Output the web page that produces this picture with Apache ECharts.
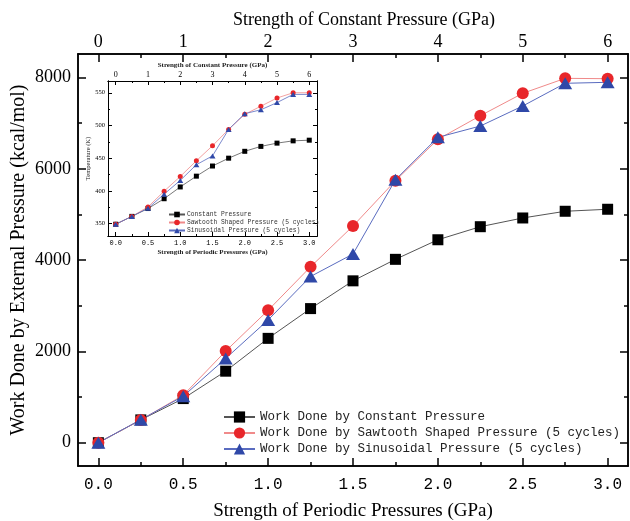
<!DOCTYPE html>
<html>
<head>
<meta charset="utf-8">
<script src="https://cdn.jsdelivr.net/npm/echarts@6/dist/echarts.min.js"></script>
<style>
html,body{margin:0;padding:0;background:#fff;}
#c{width:630px;height:521px;}
</style>
</head>
<body>
<div id="c"></div>
<script>
// ---- data ----
const periodicX = [0, 0.25, 0.5, 0.75, 1.0, 1.25, 1.5, 1.75, 2.0, 2.25, 2.5, 2.75, 3.0];
const workConstant = [0, 500, 967, 1567, 2286, 2938, 3546, 4017, 4446, 4732, 4923, 5070, 5114];
const workSawtooth = [0, 500, 1040, 2007, 2901, 3853, 4747, 5740, 6646, 7163, 7654, 7982, 7974];
const workSinusoidal = [0, 505, 1018, 1846, 2689, 3641, 4134, 5760, 6690, 6937, 7376, 7873, 7895];
const tempConstant = [349, 361, 373, 388, 406, 422.5, 438, 450, 460.5, 468, 473, 476.5, 477.5];
const tempSawtooth = [349, 361, 375.5, 399.5, 422, 446, 469, 494, 517, 529.5, 542, 550, 550];
const tempSinusoidal = [349, 361, 373.5, 395, 416, 440, 453.5, 494, 518, 524, 535, 547.5, 547.5];

const periodicTicks = [0, 0.5, 1.0, 1.5, 2.0, 2.5, 3.0];
const periodicMinor = [0.25, 0.75, 1.25, 1.75, 2.25, 2.75];
const constantTicks = [0, 1, 2, 3, 4, 5, 6];
const constantMinor = [0.5, 1.5, 2.5, 3.5, 4.5, 5.5];
const workTicks = [0, 2000, 4000, 6000, 8000];
const workMinor = [1000, 3000, 5000, 7000];
const tempTicks = [350, 400, 450, 500, 550];
const tempMinor = [375, 425, 475, 525];

const mainNames = ['Work Done by Constant Pressure', 'Work Done by Sawtooth Shaped Pressure (5 cycles)', 'Work Done by Sinusoidal Pressure (5 cycles)'];
const insetNames = ['Constant Pressure', 'Sawtooth Shaped Pressure (5 cycles)', 'Sinusoidal Pressure (5 cycles)'];

// ---- styling helpers ----
const SERIF = "'Liberation Serif', 'DejaVu Serif', serif";
const MONO = "'Liberation Mono', 'DejaVu Sans Mono', monospace";
const AX = '#000';

function pair(ys) { return periodicX.map((x, i) => [x, ys[i]]); }

function xAx(o) {
  return Object.assign({
    type: 'value', splitLine: {show: false}, nameMoveOverlap: false,
    axisLine: {show: true, onZero: false, lineStyle: {color: AX, width: o.lw || 1.5}},
    axisTick: {show: true, inside: true, length: o.tl, customValues: o.ticks, lineStyle: {color: AX, width: o.lw || 1.5}},
    axisLabel: o.labels ? {show: true, customValues: o.ticks, color: '#000', fontFamily: o.ff, fontSize: o.fs, margin: o.margin, formatter: o.fmt} : {show: false}
  }, o.base);
}

const mainX = {gridIndex: 0, min: -0.12, max: 3.12};
const mainXT = {gridIndex: 0, min: -0.24, max: 6.24};
const mainY = {gridIndex: 0, min: -510, max: 8515};
const inX = {gridIndex: 1, min: -0.12, max: 3.12};
const inXT = {gridIndex: 1, min: -0.24, max: 6.24};
const inY = {gridIndex: 1, min: 331, max: 568};

const option = {
  backgroundColor: '#fff',
  animation: false,
  grid: [
    {left: 78, right: 2, top: 54, bottom: 55, containLabel: false, outerBoundsMode: 'none', show: true, backgroundColor: '#fff', borderWidth: 0},
    {left: 108, top: 81, width: 209, height: 155, containLabel: false, outerBoundsMode: 'none', show: true, backgroundColor: '#fff', borderWidth: 0}
  ],
  xAxis: [
    // main bottom
    xAx({base: Object.assign({position: 'bottom', name: 'Strength of Periodic Pressures (GPa)', nameLocation: 'middle', nameGap: 36,
      nameTextStyle: {fontFamily: SERIF, fontSize: 19, color: '#000'}}, mainX),
      ticks: periodicTicks, tl: 8, labels: true, ff: MONO, fs: 16, margin: 11, fmt: v => v.toFixed(1)}),
    xAx({base: Object.assign({position: 'bottom'}, mainX), ticks: periodicMinor, tl: 4}),
    // main top
    xAx({base: Object.assign({position: 'top', name: 'Strength of Constant Pressure (GPa)', nameLocation: 'middle', nameGap: 25,
      nameTextStyle: {fontFamily: SERIF, fontSize: 18, color: '#000', padding: [0, 0, 0, 22]}}, mainXT),
      ticks: constantTicks, tl: 8, labels: true, ff: SERIF, fs: 18, margin: 3, fmt: v => String(v)}),
    xAx({base: Object.assign({position: 'top'}, mainXT), ticks: constantMinor, tl: 4}),
    // inset bottom
    xAx({base: Object.assign({position: 'bottom', name: 'Strength of Periodic Pressures (GPa)', nameLocation: 'middle', nameGap: 13,
      nameTextStyle: {fontFamily: SERIF, fontSize: 7, fontWeight: 'bold', color: '#222'}}, inX),
      ticks: periodicTicks, tl: 4, lw: 1, labels: true, ff: MONO, fs: 7, margin: 4, fmt: v => v.toFixed(1)}),
    xAx({base: Object.assign({position: 'bottom'}, inX), ticks: periodicMinor, tl: 2, lw: 1}),
    // inset top
    xAx({base: Object.assign({position: 'top', name: 'Strength of Constant Pressure (GPa)', nameLocation: 'middle', nameGap: 12,
      nameTextStyle: {fontFamily: SERIF, fontSize: 7, fontWeight: 'bold', color: '#222'}}, inXT),
      ticks: constantTicks, tl: 4, lw: 1, labels: true, ff: SERIF, fs: 8, margin: 2, fmt: v => String(v)}),
    xAx({base: Object.assign({position: 'top'}, inXT), ticks: constantMinor, tl: 2, lw: 1})
  ],
  yAxis: [
    xAx({base: Object.assign({position: 'left', name: 'Work Done by External Pressure (kcal/mol)', nameLocation: 'middle', nameGap: 49,
      nameTextStyle: {fontFamily: SERIF, fontSize: 20, color: '#000'}}, mainY),
      ticks: workTicks, tl: 8, labels: true, ff: SERIF, fs: 18, margin: 7, fmt: v => String(v)}),
    xAx({base: Object.assign({position: 'left'}, mainY), ticks: workMinor, tl: 4}),
    xAx({base: Object.assign({position: 'right'}, mainY), ticks: workTicks, tl: 8}),
    xAx({base: Object.assign({position: 'right'}, mainY), ticks: workMinor, tl: 4}),
    xAx({base: Object.assign({position: 'left', name: 'Temperature (K)', nameLocation: 'middle', nameGap: 16,
      nameTextStyle: {fontFamily: SERIF, fontSize: 6.5, color: '#222'}}, inY),
      ticks: tempTicks, tl: 4, lw: 1, labels: true, ff: SERIF, fs: 6.5, margin: 3, fmt: v => String(v)}),
    xAx({base: Object.assign({position: 'left'}, inY), ticks: tempMinor, tl: 2, lw: 1}),
    xAx({base: Object.assign({position: 'right'}, inY), ticks: tempTicks, tl: 4, lw: 1}),
    xAx({base: Object.assign({position: 'right'}, inY), ticks: tempMinor, tl: 2, lw: 1})
  ],
  legend: [
    {data: mainNames, orient: 'vertical', left: 218, top: 405, itemWidth: 31, itemHeight: 14, itemGap: 2,
      textStyle: {fontFamily: MONO, fontSize: 12.5, color: '#222', lineHeight: 14}},
    {data: insetNames, orient: 'vertical', left: 163, top: 206, itemWidth: 16, itemHeight: 7, itemGap: 1,
      textStyle: {fontFamily: MONO, fontSize: 6.3, color: '#333', lineHeight: 7, padding: [0, 0, 0, -3]}, z: 10}
  ],
  series: [
    {name: mainNames[0], type: 'line', xAxisIndex: 0, yAxisIndex: 0, data: pair(workConstant),
      symbol: 'rect', symbolSize: 11, itemStyle: {color: '#000'}, lineStyle: {color: '#555', width: 1}},
    {name: mainNames[1], type: 'line', xAxisIndex: 0, yAxisIndex: 0, data: pair(workSawtooth),
      symbol: 'circle', symbolSize: 12, itemStyle: {color: '#e8262a'}, lineStyle: {color: '#f08a8a', width: 1}},
    {name: mainNames[2], type: 'line', xAxisIndex: 0, yAxisIndex: 0, data: pair(workSinusoidal),
      symbol: 'triangle', symbolSize: [14, 12], itemStyle: {color: '#2f48a8'}, lineStyle: {color: '#5a6cc0', width: 1}},
    {name: insetNames[0], type: 'line', xAxisIndex: 4, yAxisIndex: 4, data: pair(tempConstant), z: 10,
      symbol: 'rect', symbolSize: 5, itemStyle: {color: '#000'}, lineStyle: {color: '#555', width: 0.8}},
    {name: insetNames[1], type: 'line', xAxisIndex: 4, yAxisIndex: 4, data: pair(tempSawtooth), z: 10,
      symbol: 'circle', symbolSize: 5, itemStyle: {color: '#e8262a'}, lineStyle: {color: '#f08a8a', width: 0.8}},
    {name: insetNames[2], type: 'line', xAxisIndex: 4, yAxisIndex: 4, data: pair(tempSinusoidal), z: 10,
      symbol: 'triangle', symbolSize: [6, 5], itemStyle: {color: '#2f48a8'}, lineStyle: {color: '#5a6cc0', width: 0.8}}
  ]
};

const chart = echarts.init(document.getElementById('c'), null, {renderer: 'canvas'});
chart.setOption(option);
</script>
</body>
</html>
